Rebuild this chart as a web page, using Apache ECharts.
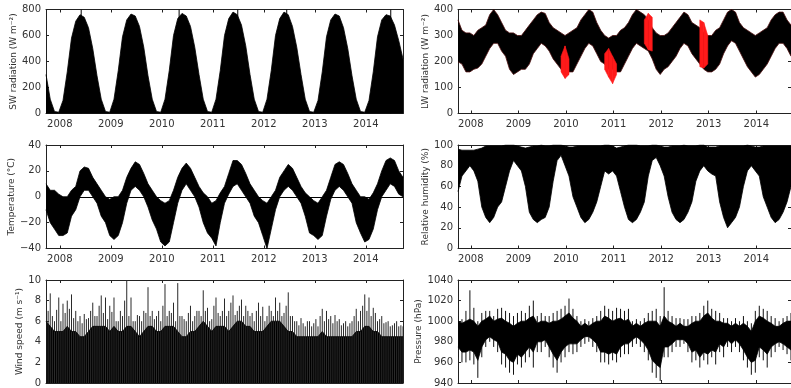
<!DOCTYPE html>
<html>
<head>
<meta charset="utf-8">
<script src="https://cdn.jsdelivr.net/npm/echarts@6/dist/echarts.min.js"></script>
<style>
  html, body { margin: 0; padding: 0; background: #fff; }
  #chart { width: 791px; height: 388px; }
</style>
</head>
<body>
<div id="chart"></div>
<script>
// one sample per month, first one late Sept 2007 (values are monthly envelopes)
const T0 = 2007.73;
const yearTicks = [2008, 2009, 2010, 2011, 2012, 2013, 2014];

// SW radiation, monthly upper envelope (W m-2), rows start in October
const swMax = [
  300, 110, 15, 10, 100, 320, 580, 710, 760, 740, 660, 500,
  290, 110, 15, 10, 110, 330, 590, 720, 765, 750, 670, 510,
  290, 110, 15, 10, 110, 330, 600, 730, 770, 750, 670, 510,
  300, 110, 15, 10, 110, 330, 600, 730, 780, 760, 680, 520,
  300, 110, 15, 10, 110, 330, 600, 730, 780, 760, 670, 510,
  300, 110, 15, 10, 100, 320, 590, 720, 765, 750, 660, 500,
  290, 110, 15, 10, 100, 320, 590, 720, 760, 750, 680, 560,
  420
];
// single-day peaks touching the top
const swPeakT = [2008.42, 2010.34, 2011.49, 2012.45, 2014.49];
const swPeakV = [800, 800, 800, 800, 800];

// LW radiation envelope (W m-2)
const lwHi = [
  360, 320, 310, 310, 300, 320, 330, 340, 380, 400, 380, 350,
  320, 310, 310, 300, 300, 320, 340, 360, 380, 390, 385, 350,
  330, 320, 310, 300, 310, 320, 330, 360, 380, 400, 390, 350,
  320, 300, 290, 300, 300, 320, 330, 350, 380, 400, 390, 380,
  360, 330, 310, 300, 300, 310, 330, 350, 370, 390, 380, 350,
  340, 330, 310, 300, 300, 320, 330, 360, 390, 400, 390, 350,
  330, 320, 310, 300, 310, 320, 330, 360, 380, 390, 390, 360,
  340
];
const lwLo = [
  199, 190, 160, 160, 170, 175, 190, 220, 250, 270, 270, 240,
  220, 170, 150, 160, 170, 170, 190, 230, 250, 270, 260, 240,
  210, 190, 170, 150, 160, 160, 190, 220, 250, 270, 260, 230,
  200, 190, 170, 170, 160, 160, 190, 220, 250, 270, 260, 250,
  240, 210, 170, 150, 170, 180, 200, 220, 250, 270, 260, 230,
  210, 190, 170, 160, 160, 170, 190, 230, 260, 280, 270, 240,
  210, 180, 160, 140, 150, 170, 190, 220, 250, 270, 270, 250,
  220
];
// gap-filled (red) parts of the LW record
const lwRedHi = [
  null, null, null, null, null, null, null, null, null, null, null, null,
  null, null, null, null, null, null, null, null, null, null, null, null,
  null, null, 220, 260, 210, null, null, null, null, null, null, null,
  null, 230, 250, 220, 190, null, null, null, null, null, null, 360,
  385, 370, null, null, null, null, null, null, null, null, null, null,
  null, 360, 350, 300, null, null, null, null, null, null, null, null,
  null, null, null, null, null, null, null, null, null, null, null, null,
  null
];
const lwRedLo = [
  null, null, null, null, null, null, null, null, null, null, null, null,
  null, null, null, null, null, null, null, null, null, null, null, null,
  null, null, 160, 135, 150, null, null, null, null, null, null, null,
  null, 170, 140, 115, 150, null, null, null, null, null, null, 270,
  245, 240, null, null, null, null, null, null, null, null, null, null,
  null, 180, 175, 190, null, null, null, null, null, null, null, null,
  null, null, null, null, null, null, null, null, null, null, null, null,
  null
];

// Temperature envelope (deg C)
const tHi = [
  10, 5, 5, 2, 0, 0, 5, 8, 20, 23, 22, 15,
  10, 5, 0, -2, 0, 0, 5, 15, 22, 27, 25, 18,
  10, 5, 0, -3, -5, -3, 5, 15, 22, 26, 22, 15,
  8, 3, 0, -5, -3, 3, 8, 18, 28, 28, 25, 18,
  10, 5, 0, -3, -5, 0, 5, 15, 20, 25, 22, 15,
  8, 3, 0, -3, -5, 0, 5, 15, 25, 27, 25, 18,
  10, 5, 0, 0, -2, 3, 10, 20, 28, 30, 28, 20,
  15
];
const tLo = [
  -10, -20, -25, -30, -30, -28, -15, -10, 0, 5, 5, 0,
  -5, -15, -20, -30, -33, -30, -20, -5, 5, 8, 5, 0,
  -8, -18, -25, -35, -38, -35, -20, -5, 5, 10, 5, 0,
  -8, -20, -28, -32, -38, -20, -5, 2, 8, 10, 5, 0,
  -5, -15, -20, -30, -40, -25, -10, 0, 5, 8, 5, 0,
  -5, -15, -28, -30, -33, -30, -15, -2, 5, 8, 5, 0,
  -5, -20, -28, -35, -33, -25, -10, 0, 5, 10, 8, 2,
  0
];

// Relative humidity envelope (%)
const rhHi = [
  96, 95, 95, 95, 95, 96, 97, 99, 99, 99, 99, 99,
  100, 100, 100, 99, 98, 97, 98, 99, 99, 100, 99, 99,
  100, 100, 100, 99, 98, 98, 99, 99, 99, 99, 99, 99,
  99, 100, 100, 99, 97, 98, 99, 100, 100, 100, 99, 99,
  99, 100, 100, 99, 98, 98, 99, 99, 99, 100, 99, 99,
  99, 100, 100, 98, 98, 98, 99, 99, 99, 99, 99, 99,
  99, 100, 99, 98, 98, 99, 99, 99, 99, 99, 99, 99,
  99
];
const rhLo = [
  55, 70, 75, 80, 75, 65, 40, 30, 25, 30, 40, 45,
  60, 75, 85, 80, 75, 60, 35, 28, 25, 28, 30, 40,
  65, 85, 90, 80, 70, 50, 40, 30, 25, 28, 35, 45,
  60, 75, 72, 75, 70, 55, 40, 28, 25, 28, 35, 45,
  70, 85, 88, 80, 70, 50, 35, 28, 25, 28, 35, 45,
  65, 75, 80, 75, 72, 70, 45, 30, 20, 25, 30, 40,
  60, 75, 80, 75, 70, 50, 40, 30, 25, 28, 35, 45,
  60
];

// Wind speed: dense part, monthly peak and mid-month secondary peak (m s-1)
const windCore = [
  6, 5.5, 5, 5, 5, 5.5, 5, 5, 4.5, 4.5, 5, 5.5,
  5.5, 5.5, 5.5, 5, 5.5, 5, 5, 5.5, 5.5, 5, 4.5, 5,
  5.5, 5.5, 5, 5, 5.5, 5.5, 5.5, 5, 4.5, 4.5, 5, 5,
  5.5, 6, 5.5, 5, 5.5, 5.5, 5.5, 5, 5.5, 6, 6, 5.5,
  5.5, 5, 5, 5, 5.5, 6, 6, 6, 5.5, 5, 5, 4.5,
  4.5, 4.5, 4.5, 4.5, 4.5, 5, 4.5, 4.5, 4.5, 4.5, 4.5, 4.5,
  4.5, 5, 5, 5.5, 5.5, 5, 5, 4.5, 4.5, 4.5, 4.5, 4.5,
  4.5
];
const windPeak = [
  9.0, 8.7, 6.0, 8.3, 7.7, 8.0, 8.6, 7.0, 6.5, 6.7, 6.3, 7.8,
  6.5, 8.5, 8.3, 7.5, 8.3, 6.0, 6.5, 10.0, 8.3, 6.0, 6.5, 7.0,
  9.3, 7.0, 6.5, 6.0, 9.6, 7.0, 7.8, 9.7, 6.5, 6.0, 7.5, 6.5,
  7.0, 9.0, 7.3, 6.2, 8.3, 6.5, 8.2, 7.0, 8.5, 7.0, 8.1, 7.5,
  6.5, 6.0, 7.8, 7.4, 6.5, 7.0, 8.3, 7.8, 6.8, 8.8, 6.5, 6.0,
  6.3, 5.5, 6.0, 5.8, 5.5, 7.2, 7.0, 6.5, 6.6, 6.2, 5.8, 5.5,
  6.0, 7.2, 7.0, 8.6, 8.3, 7.3, 6.0, 6.5, 5.9, 5.5, 5.8, 5.5,
  5.5
];
const windPeak2 = [
  7.0, 6.5, 7.1, 6.0, 6.8, 7.2, 6.3, 6.0, 5.8, 6.2, 7.0, 6.5,
  7.5, 6.8, 6.2, 6.9, 6.0, 7.0, 8.0, 6.5, 6.0, 6.6, 6.0, 6.8,
  6.5, 6.2, 7.0, 7.5, 6.5, 6.8, 6.0, 6.5, 6.2, 6.8, 6.0, 7.0,
  6.5, 7.0, 6.0, 7.5, 6.8, 7.0, 6.5, 7.8, 6.6, 7.5, 6.5, 7.0,
  6.8, 7.0, 6.5, 6.0, 7.5, 6.5, 7.0, 6.5, 7.5, 6.5, 6.0, 5.6,
  5.8, 6.0, 5.5, 6.2, 6.5, 6.0, 6.2, 5.8, 6.0, 5.6, 6.0, 5.8,
  6.5, 6.0, 7.5, 7.0, 6.5, 6.8, 6.2, 5.8, 6.0, 5.6, 6.0, 5.6,
  5.6
];

// Pressure: dense core and monthly extremes (hPa)
const pCoreHi = [
  1000, 998, 1000, 1002, 1000, 995, 1000, 1002, 1005, 1000, 1002, 1003,
  1000, 998, 995, 998, 1000, 1000, 1003, 1005, 998, 1000, 1000, 998,
  1000, 1000, 1002, 1005, 1008, 1003, 1000, 995, 998, 995, 998, 1000,
  1000, 1005, 1003, 1000, 1002, 1003, 1000, 1002, 995, 998, 995, 998,
  1000, 1000, 1000, 995, 1005, 1000, 998, 995, 998, 995, 995, 998,
  1000, 1000, 1005, 1008, 1003, 1000, 1000, 998, 998, 995, 998, 995,
  998, 995, 990, 1000, 1005, 1003, 1000, 998, 995, 995, 998, 1000,
  1000
];
const pCoreLo = [
  975, 970, 970, 972, 970, 962, 975, 982, 985, 982, 980, 970,
  968, 962, 960, 968, 965, 970, 975, 970, 980, 980, 982, 975,
  968, 962, 970, 975, 978, 978, 978, 982, 985, 985, 982, 978,
  970, 970, 968, 970, 968, 975, 978, 978, 982, 985, 982, 978,
  972, 962, 958, 955, 975, 975, 978, 982, 982, 982, 978, 970,
  972, 965, 970, 968, 972, 970, 978, 975, 982, 978, 982, 978,
  972, 965, 960, 962, 975, 972, 968, 975, 978, 980, 978, 975,
  972
];
const pMax = [
  1005, 1002, 1010, 1030, 1013, 1000, 1008, 1010, 1010, 1005, 1012, 1013,
  1010, 1008, 1005, 1008, 1010, 1008, 1015, 1020, 1005, 1008, 1005, 1005,
  1008, 1010, 1012, 1015, 1022, 1012, 1005, 1000, 1002, 1000, 1003, 1005,
  1010, 1015, 1012, 1010, 1013, 1012, 1010, 1012, 1000, 1002, 1000, 1003,
  1008, 1010, 1012, 1005, 1033, 1010, 1005, 1003, 1003, 1002, 1002, 1005,
  1005, 1008, 1015, 1020, 1012, 1010, 1008, 1003, 1003, 1000, 1003, 1000,
  1005, 1000, 998, 1010, 1015, 1012, 1010, 1005, 1003, 1000, 1003, 1005,
  1008
];
const pMin = [
  965, 960, 960, 962, 958, 945, 965, 975, 980, 975, 970, 958,
  955, 950, 948, 958, 955, 960, 965, 955, 970, 970, 975, 965,
  955, 950, 960, 965, 970, 968, 970, 975, 978, 980, 975, 970,
  960, 960, 958, 962, 960, 965, 968, 968, 975, 978, 975, 970,
  962, 950, 945, 942, 965, 965, 970, 975, 975, 978, 970, 960,
  962, 955, 962, 958, 965, 958, 970, 965, 975, 970, 975, 970,
  962, 955, 948, 950, 965, 962, 955, 965, 970, 975, 972, 968,
  962
];

const tm = swMax.map((_, i) => +(T0 + i / 12).toFixed(4));
const tmMid = tm.map(t => +(t + 1 / 24).toFixed(4));

const FONT = 'DejaVu Sans';
const TXT = '#333';
const AX = '#222';

const grids = [
  { left: 46, top: 9.5, width: 357, height: 104 },
  { left: 458, top: 9.5, width: 356, height: 104 },
  { left: 46, top: 145, width: 357, height: 103.5 },
  { left: 458, top: 145, width: 356, height: 103.5 },
  { left: 46, top: 280, width: 357, height: 104 },
  { left: 458, top: 280, width: 356, height: 104 }
];

function xAxes(gi, showLabels) {
  const line = { show: true, onZero: false, lineStyle: { color: AX, width: 1 } };
  const tick = { show: true, inside: true, length: 3, customValues: yearTicks, lineStyle: { color: AX } };
  return [
    {
      type: 'value', gridIndex: gi, min: T0, max: T0 + 7, position: 'bottom',
      axisLine: line, axisTick: tick, splitLine: { show: false },
      axisLabel: {
        show: showLabels, customValues: yearTicks, formatter: v => String(Math.round(v)),
        color: TXT, fontSize: 10, fontFamily: FONT, margin: 6
      }
    },
    {
      type: 'value', gridIndex: gi, min: T0, max: T0 + 7, position: 'top',
      axisLine: line, axisTick: tick, axisLabel: { show: false }, splitLine: { show: false }
    }
  ];
}

function yAxes(gi, min, max, interval, name, gap) {
  const base = {
    type: 'value', gridIndex: gi, min, max, interval,
    splitLine: { show: false },
    axisLine: { show: true, onZero: false, lineStyle: { color: AX, width: 1 } },
    axisTick: { show: true, inside: true, length: 3, lineStyle: { color: AX } }
  };
  return [
    Object.assign({}, base, {
      position: 'left', name, nameLocation: 'middle', nameGap: gap, nameRotate: 90,
      nameTextStyle: { color: TXT, fontSize: 9, fontFamily: FONT },
      axisLabel: {
        color: TXT, fontSize: 10, fontFamily: FONT, margin: 5,
        formatter: v => (v < 0 ? '\u2212' + (-v) : String(v))
      }
    }),
    Object.assign({}, base, { position: 'right', axisLabel: { show: false } })
  ];
}

const pts = arr => arr.map((v, i) => [tm[i], v]);

// filled band between lo and hi, built from two stacked line series.
// value is put first in each item so that the stack runs on y, not on x
function band(gi, lo, hi, color, edge, z, extra) {
  const id = 'band' + gi + color;
  const common = {
    type: 'line', xAxisIndex: gi * 2, yAxisIndex: gi * 2, stack: id, stackStrategy: 'all',
    encode: { x: 1, y: 0 },
    symbol: 'none', showSymbol: false, silent: true, z,
    lineStyle: { color: edge, width: 0.8 }
  };
  return [
    Object.assign({}, common, { data: lo.map((v, i) => [v, tm[i]]) }, extra || {}),
    Object.assign({}, common, {
      data: hi.map((v, i) => [v - lo[i], tm[i]]),
      areaStyle: { color, opacity: 1 }
    })
  ];
}

// band pieces for a record with gaps: one quad per pair of neighbouring samples
function patches(gi, lo, hi, color, z) {
  const items = [];
  for (let i = 0; i + 1 < lo.length; i++) {
    if (lo[i] != null && lo[i + 1] != null) {
      items.push([tm[i], lo[i], hi[i], tm[i + 1], lo[i + 1], hi[i + 1]]);
    }
  }
  return {
    type: 'custom', xAxisIndex: gi * 2, yAxisIndex: gi * 2, clip: true, silent: true, z,
    data: items,
    encode: { x: [0, 3], y: [1, 2, 4, 5] },
    renderItem: (params, api) => {
      const a = api.coord([api.value(0), api.value(1)]);
      const b = api.coord([api.value(0), api.value(2)]);
      const c = api.coord([api.value(3), api.value(5)]);
      const d = api.coord([api.value(3), api.value(4)]);
      return {
        type: 'polygon',
        shape: { points: [a, b, c, d] },
        style: { fill: color, stroke: color, lineWidth: 0.6 }
      };
    }
  };
}

// thin vertical strokes from lo to hi
function spikes(gi, t, lo, hi, color, width, z) {
  return {
    type: 'custom', xAxisIndex: gi * 2, yAxisIndex: gi * 2, clip: true, silent: true, z,
    data: hi.map((v, i) => [t[i], lo[i], v]),
    encode: { x: 0, y: [1, 2] },
    renderItem: (params, api) => {
      const a = api.coord([api.value(0), api.value(1)]);
      const b = api.coord([api.value(0), api.value(2)]);
      return {
        type: 'line',
        shape: { x1: a[0], y1: a[1], x2: b[0], y2: b[1] },
        style: { stroke: color, lineWidth: width }
      };
    }
  };
}

const zeros = n => new Array(n).fill(0);

const series = [
  // SW radiation
  {
    type: 'line', xAxisIndex: 0, yAxisIndex: 0, data: pts(swMax), symbol: 'none', silent: true,
    lineStyle: { color: '#000', width: 0.8 }, areaStyle: { color: '#000', opacity: 1 }, z: 2
  },
  spikes(0, swPeakT, zeros(swPeakT.length), swPeakV, '#000', 1, 3),
  // LW radiation
  ...band(1, lwLo, lwHi, '#000', '#4a0d0d', 2),
  patches(1, lwRedLo, lwRedHi, '#ff1a1a', 3),
  // Temperature
  ...band(2, tLo, tHi, '#000', '#000', 2, {
    markLine: {
      silent: true, symbol: 'none', label: { show: false },
      lineStyle: { color: '#000', width: 1, type: 'solid' },
      data: [{ yAxis: 0 }]
    }
  }),
  // Relative humidity
  ...band(3, rhLo, rhHi, '#000', '#000', 2),
  // Wind speed
  {
    type: 'line', xAxisIndex: 8, yAxisIndex: 8, data: pts(windCore), symbol: 'none', silent: true,
    lineStyle: { color: '#000', width: 0.8 }, areaStyle: { color: '#000', opacity: 1 }, z: 2
  },
  spikes(4, tm, zeros(tm.length), windPeak, '#2a2a2a', 1, 2),
  spikes(4, tmMid, zeros(tmMid.length), windPeak2, '#2a2a2a', 1, 2),
  // Pressure
  spikes(5, tm, pMin, pMax, '#111', 1, 2),
  ...band(5, pCoreLo, pCoreHi, '#000', '#000', 2)
];

const chart = echarts.init(document.getElementById('chart'), null, { renderer: 'canvas' });
chart.setOption({
  animation: false,
  backgroundColor: '#fff',
  grid: grids,
  xAxis: [
    ...xAxes(0, true), ...xAxes(1, true),
    ...xAxes(2, true), ...xAxes(3, true),
    ...xAxes(4, false), ...xAxes(5, false)
  ],
  yAxis: [
    ...yAxes(0, 0, 800, 200, 'SW radiation (W m\u207B\u00B2)', 27),
    ...yAxes(1, 0, 400, 100, 'LW radiation (W m\u207B\u00B2)', 26),
    ...yAxes(2, -40, 40, 20, 'Temperature (\u00B0C)', 30),
    ...yAxes(3, 0, 100, 20, 'Relative humidity (%)', 26),
    ...yAxes(4, 0, 10, 2, 'Wind speed (m s\u207B\u00B9)', 20),
    ...yAxes(5, 940, 1040, 20, 'Pressure (hPa)', 32)
  ],
  series
});
</script>
</body>
</html>
